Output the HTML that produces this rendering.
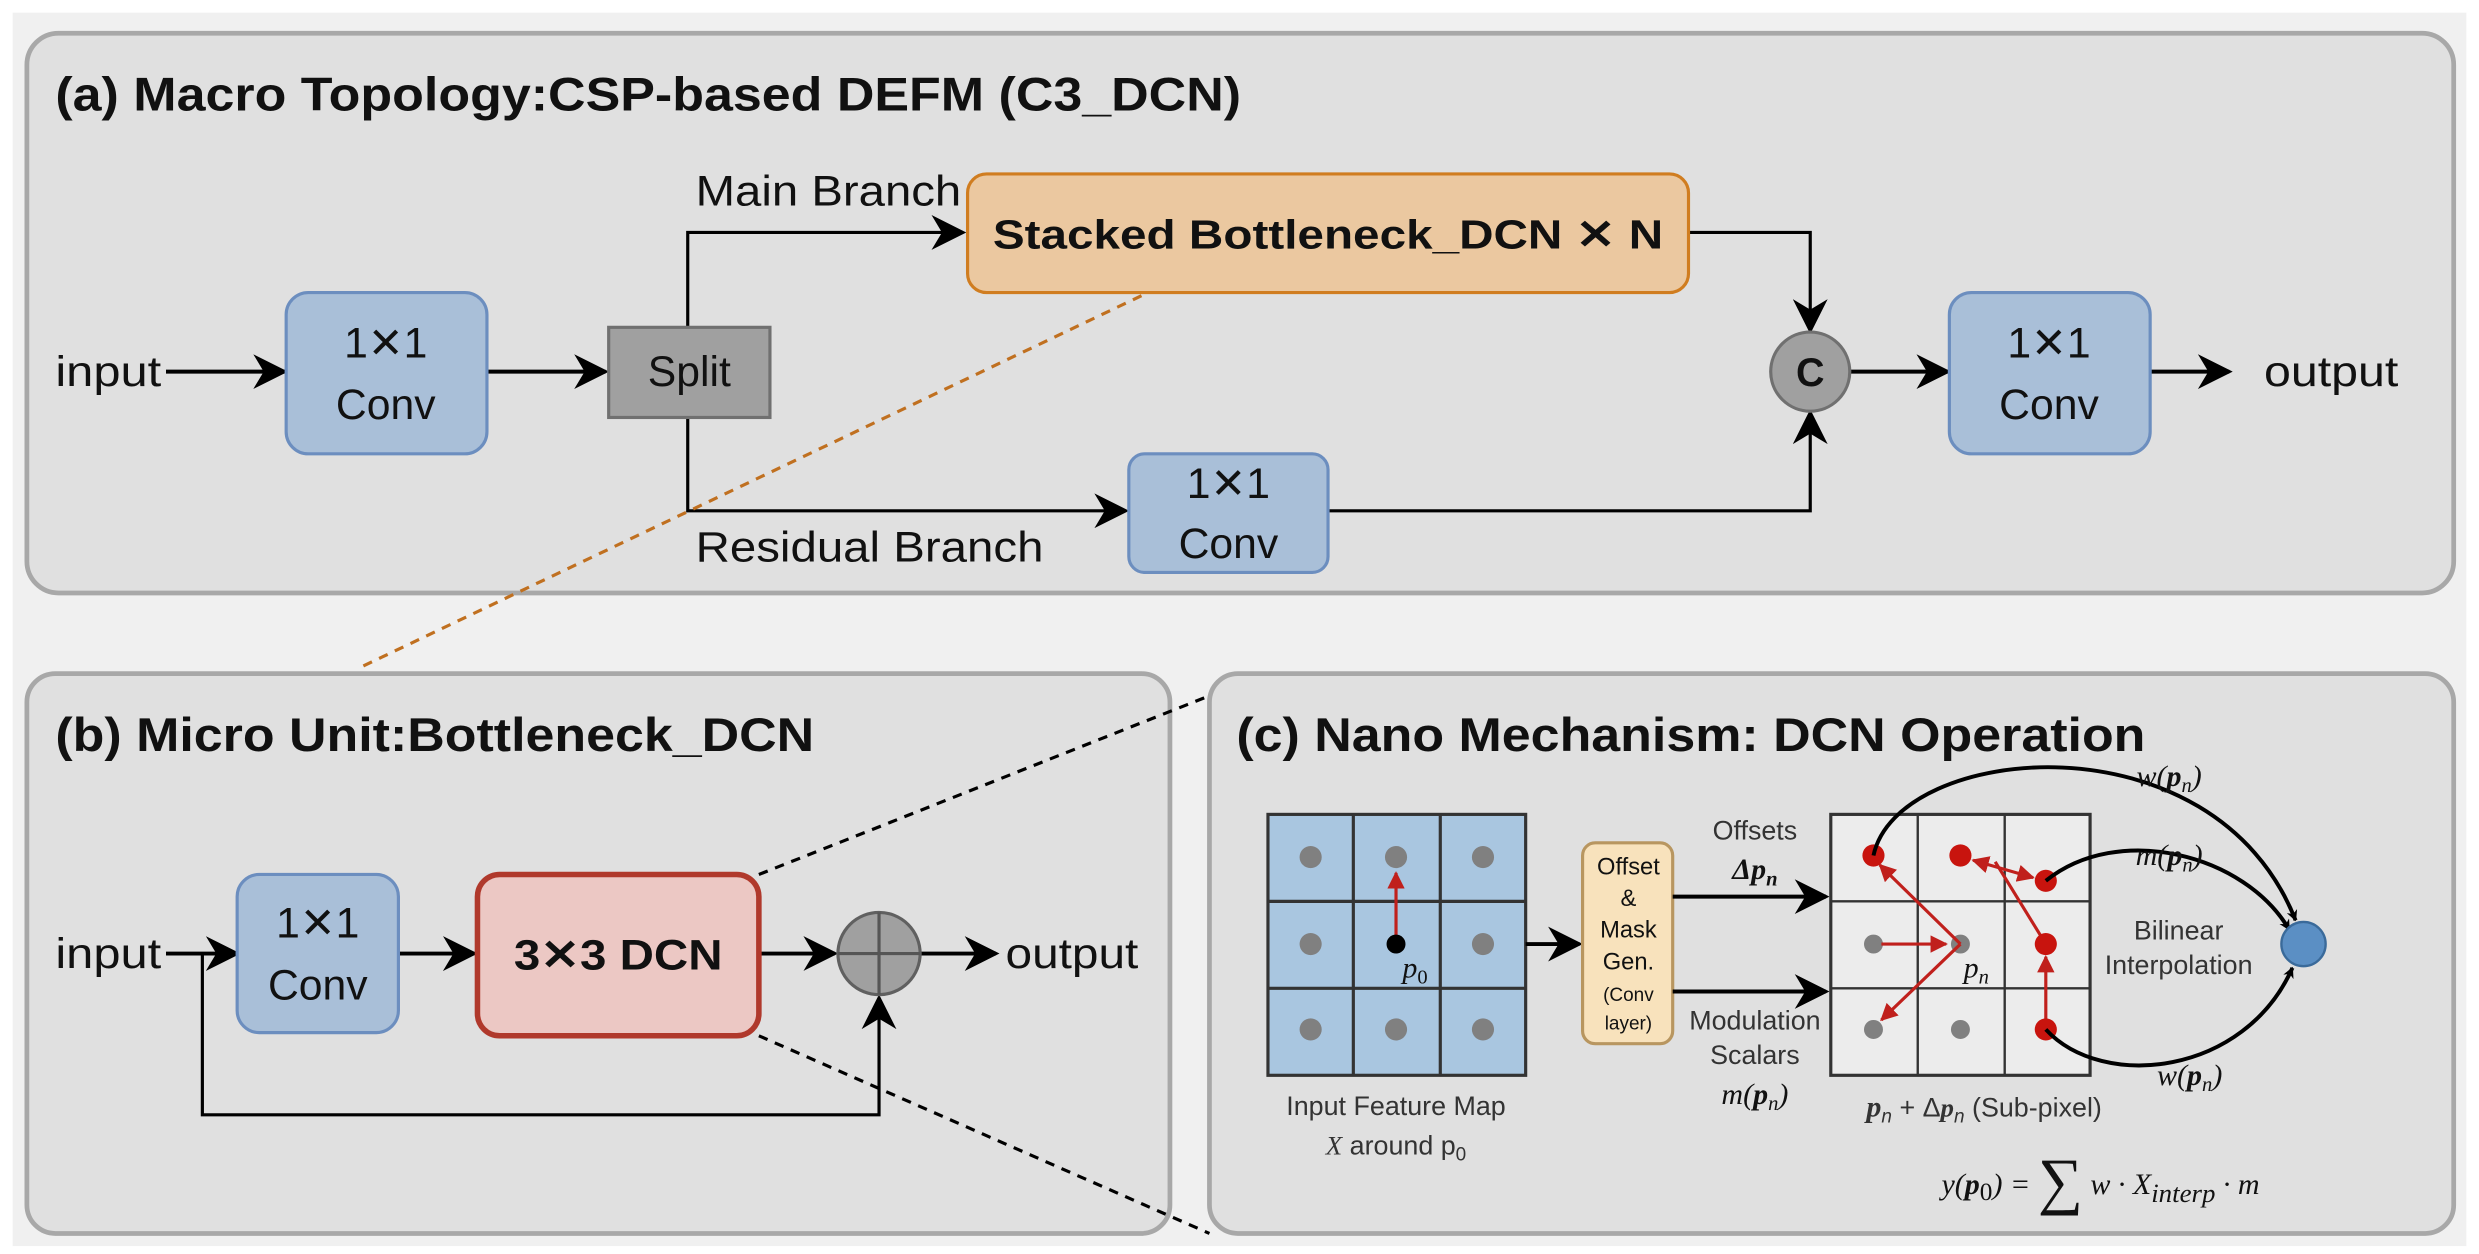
<!DOCTYPE html>
<html><head><meta charset="utf-8"><style>
html,body{margin:0;padding:0;background:#fff;}
svg{display:block;}
text{font-family:"Liberation Sans",sans-serif;fill:#111;}
.t{font-weight:bold;font-size:30px;}
.l{font-size:27px;}
.s{font-size:17px;fill:#333;}
.m{font-family:"Liberation Serif",serif;font-style:italic;font-size:19px;}
</style></head><body>
<svg width="2479" height="1254" viewBox="0 0 1568 793" preserveAspectRatio="none" xmlns="http://www.w3.org/2000/svg">
<defs>
<marker id="a" viewBox="0 0 10 10" refX="9" refY="5" markerWidth="7" markerHeight="7" markerUnits="userSpaceOnUse" orient="auto"><path d="M0,0 L10,5 L0,10 L3,5 z" fill="#000"/></marker>
<marker id="A" viewBox="0 0 10 10" refX="9" refY="5" markerWidth="22" markerHeight="22" markerUnits="userSpaceOnUse" orient="auto"><path d="M0,0 L10,5 L0,10 L3,5 z" fill="#000"/></marker>
<marker id="r" viewBox="0 0 10 10" refX="9" refY="5" markerWidth="11" markerHeight="11" markerUnits="userSpaceOnUse" orient="auto"><path d="M0,0 L10,5 L0,10 z" fill="#c0201c"/></marker>
<marker id="rs" viewBox="0 0 10 10" refX="1" refY="5" markerWidth="11" markerHeight="11" markerUnits="userSpaceOnUse" orient="auto"><path d="M10,0 L0,5 L10,10 z" fill="#c0201c"/></marker>
</defs>
<rect x="0" y="0" width="1568" height="793" fill="#fff"/>
<rect x="8" y="8" width="1552" height="780" fill="#f0f0f0"/>
<!-- panel a -->
<rect x="17" y="21" width="1535" height="354" rx="20" fill="#e0e0e0" stroke="#a8a8a8" stroke-width="3"/>
<text x="35" y="70" class="t" textLength="750" lengthAdjust="spacingAndGlyphs">(a) Macro Topology:CSP-based DEFM (C3_DCN)</text>
<text x="35" y="244" class="l" textLength="67" lengthAdjust="spacingAndGlyphs">input</text>
<g stroke="#000" stroke-width="2.5" fill="none">
<line x1="105" y1="235" x2="180" y2="235" marker-end="url(#A)"/>
<line x1="308" y1="235" x2="383" y2="235" marker-end="url(#A)"/>
<polyline points="435,207 435,147 609,147" marker-end="url(#A)" stroke-width="2"/>
<polyline points="1068,147 1145,147 1145,209" marker-end="url(#A)" stroke-width="2"/>
<line x1="1170" y1="235" x2="1232" y2="235" marker-end="url(#A)"/>
<line x1="1360" y1="235" x2="1410" y2="235" marker-end="url(#A)"/>
<polyline points="435,264 435,323 712,323" marker-end="url(#A)" stroke-width="2"/>
<polyline points="840,323 1145,323 1145,261" marker-end="url(#A)" stroke-width="2"/>
</g>
<rect x="181" y="185" width="127" height="102" rx="14" fill="#a9bfd8" stroke="#6c8ebf" stroke-width="2"/>
<text x="244" y="226" class="l" text-anchor="middle">1✕1</text><text x="244" y="265" class="l" text-anchor="middle">Conv</text>
<rect x="385" y="207" width="102" height="57" fill="#a0a0a0" stroke="#707070" stroke-width="2"/>
<text x="436" y="244" class="l" text-anchor="middle">Split</text>
<text x="440" y="130" class="l" textLength="168" lengthAdjust="spacingAndGlyphs">Main Branch</text>
<rect x="612" y="110" width="456" height="75" rx="12" fill="#ebc8a0" stroke="#d07d20" stroke-width="2"/>
<text x="628" y="157" font-size="26" font-weight="bold" textLength="424" lengthAdjust="spacingAndGlyphs">Stacked Bottleneck_DCN ✕ N</text>
<circle cx="1145" cy="235" r="25" fill="#a0a0a0" stroke="#707070" stroke-width="2"/>
<text x="1145" y="244" font-size="25" font-weight="bold" text-anchor="middle">C</text>
<rect x="1233" y="185" width="127" height="102" rx="14" fill="#a9bfd8" stroke="#6c8ebf" stroke-width="2"/>
<text x="1296" y="226" class="l" text-anchor="middle">1✕1</text><text x="1296" y="265" class="l" text-anchor="middle">Conv</text>
<text x="1432" y="244" class="l" textLength="85" lengthAdjust="spacingAndGlyphs">output</text>
<text x="440" y="355" class="l" textLength="220" lengthAdjust="spacingAndGlyphs">Residual Branch</text>
<rect x="714" y="287" width="126" height="75" rx="10" fill="#a9bfd8" stroke="#6c8ebf" stroke-width="2"/>
<text x="777" y="315" class="l" text-anchor="middle">1✕1</text><text x="777" y="353" class="l" text-anchor="middle">Conv</text>
<!-- panel b -->
<rect x="17" y="426" width="723" height="354" rx="18" fill="#e0e0e0" stroke="#a8a8a8" stroke-width="3"/>
<text x="35" y="475" class="t" textLength="480" lengthAdjust="spacingAndGlyphs">(b) Micro Unit:Bottleneck_DCN</text>
<text x="35" y="612" class="l" textLength="67" lengthAdjust="spacingAndGlyphs">input</text>
<g stroke="#000" stroke-width="2.5" fill="none">
<line x1="105" y1="603" x2="150" y2="603" marker-end="url(#A)"/>
<line x1="252" y1="603" x2="300" y2="603" marker-end="url(#A)"/>
<line x1="480" y1="603" x2="528" y2="603" marker-end="url(#A)"/>
<line x1="582" y1="603" x2="630" y2="603" marker-end="url(#A)"/>
<polyline points="128,603 128,705 556,705 556,631" marker-end="url(#A)" stroke-width="2"/>
</g>
<rect x="150" y="553" width="102" height="100" rx="14" fill="#a9bfd8" stroke="#6c8ebf" stroke-width="2"/>
<text x="201" y="593" class="l" text-anchor="middle">1✕1</text><text x="201" y="632" class="l" text-anchor="middle">Conv</text>
<rect x="302" y="553" width="178" height="102" rx="14" fill="#ecc8c4" stroke="#b0392c" stroke-width="3.5"/>
<text x="325" y="613" font-size="27" font-weight="bold" textLength="132" lengthAdjust="spacingAndGlyphs">3✕3 DCN</text>
<circle cx="556" cy="603" r="26" fill="#a0a0a0" stroke="#606060" stroke-width="2"/>
<line x1="530" y1="603" x2="582" y2="603" stroke="#555" stroke-width="2"/><line x1="556" y1="577" x2="556" y2="629" stroke="#555" stroke-width="2"/>
<text x="636" y="612" class="l" textLength="84" lengthAdjust="spacingAndGlyphs">output</text>
<!-- panel c -->
<rect x="765" y="426" width="787" height="354" rx="18" fill="#e0e0e0" stroke="#a8a8a8" stroke-width="3"/>
<text x="782" y="475" class="t" textLength="575" lengthAdjust="spacingAndGlyphs">(c) Nano Mechanism: DCN Operation</text>
<!-- dashed connectors -->
<line x1="722" y1="187" x2="228" y2="422" stroke="#c07020" stroke-width="2" stroke-dasharray="6,5"/>
<line x1="480" y1="553" x2="765" y2="440" stroke="#000" stroke-width="2" stroke-dasharray="6,5"/>
<line x1="480" y1="655" x2="765" y2="780" stroke="#000" stroke-width="2" stroke-dasharray="6,5"/>
<!-- grid 1 -->
<rect x="802" y="515" width="163" height="165" fill="#a9c6e0" stroke="#333" stroke-width="2"/>
<g stroke="#333" stroke-width="2"><line x1="856" y1="515" x2="856" y2="680"/><line x1="911" y1="515" x2="911" y2="680"/><line x1="802" y1="570" x2="965" y2="570"/><line x1="802" y1="625" x2="965" y2="625"/></g>
<g fill="#808080"><circle cx="829" cy="542" r="7"/><circle cx="883" cy="542" r="7"/><circle cx="938" cy="542" r="7"/><circle cx="829" cy="597" r="7"/><circle cx="938" cy="597" r="7"/><circle cx="829" cy="651" r="7"/><circle cx="883" cy="651" r="7"/><circle cx="938" cy="651" r="7"/></g>
<line x1="883" y1="597" x2="883" y2="552" stroke="#c0201c" stroke-width="2" marker-end="url(#r)"/>
<circle cx="883" cy="597" r="6" fill="#000"/>
<text x="887" y="618" class="m" font-size="20">p<tspan font-size="13" dy="4" font-style="normal">0</tspan></text>
<text x="883" y="705" class="s" text-anchor="middle">Input Feature Map</text>
<text x="883" y="730" class="s" text-anchor="middle"><tspan font-style="italic" font-family="Liberation Serif">X</tspan> around p<tspan font-size="12" dy="4">0</tspan></text>
<line x1="965" y1="597" x2="999" y2="597" stroke="#000" stroke-width="2.5" marker-end="url(#A)"/>
<rect x="1001" y="533" width="57" height="127" rx="8" fill="#f8e2bc" stroke="#b89660" stroke-width="2"/>
<g font-size="15" text-anchor="middle"><text x="1030" y="553" font-size="15">Offset</text><text x="1030" y="573" font-size="15">&amp;</text><text x="1030" y="593" font-size="15">Mask</text><text x="1030" y="613" font-size="15">Gen.</text><text x="1030" y="633" font-size="12">(Conv</text><text x="1030" y="651" font-size="12">layer)</text></g>
<line x1="1058" y1="567" x2="1155" y2="567" stroke="#000" stroke-width="2.5" marker-end="url(#A)"/>
<line x1="1058" y1="627" x2="1155" y2="627" stroke="#000" stroke-width="2.5" marker-end="url(#A)"/>
<text x="1110" y="531" class="s" text-anchor="middle">Offsets</text>
<text x="1110" y="556" class="m" text-anchor="middle" font-weight="bold">Δp<tspan font-size="13" dy="4">n</tspan></text>
<text x="1110" y="651" class="s" text-anchor="middle">Modulation</text>
<text x="1110" y="673" class="s" text-anchor="middle">Scalars</text>
<text x="1110" y="698" class="m" text-anchor="middle">m(<tspan font-weight="bold">p</tspan><tspan font-size="13" dy="4">n</tspan><tspan dy="-4">)</tspan></text>
<!-- grid 2 -->
<rect x="1158" y="515" width="164" height="165" fill="#ececec" stroke="#333" stroke-width="2"/>
<g stroke="#333" stroke-width="1.5"><line x1="1213" y1="515" x2="1213" y2="680"/><line x1="1268" y1="515" x2="1268" y2="680"/><line x1="1158" y1="570" x2="1322" y2="570"/><line x1="1158" y1="625" x2="1322" y2="625"/></g>
<g fill="#808080"><circle cx="1185" cy="597" r="6"/><circle cx="1240" cy="597" r="6"/><circle cx="1185" cy="651" r="6"/><circle cx="1240" cy="651" r="6"/></g>
<g stroke="#c0201c" stroke-width="2" fill="none">
<line x1="1240" y1="597" x2="1189" y2="547" marker-end="url(#r)"/>
<line x1="1240" y1="597" x2="1190" y2="645" marker-end="url(#r)"/>
<line x1="1190" y1="597" x2="1231" y2="597" marker-end="url(#r)"/>
<line x1="1294" y1="651" x2="1294" y2="605" marker-end="url(#r)"/>
<line x1="1294" y1="597" x2="1262" y2="545"/>
<line x1="1248" y1="544" x2="1286" y2="555" marker-start="url(#rs)" marker-end="url(#r)"/>
</g>
<g fill="#c8140e"><circle cx="1185" cy="541" r="7"/><circle cx="1240" cy="541" r="7"/><circle cx="1294" cy="557" r="7"/><circle cx="1294" cy="597" r="7"/><circle cx="1294" cy="651" r="7"/></g>
<text x="1242" y="618" class="m" font-size="20">p<tspan font-size="13" dy="4">n</tspan></text>
<text x="1255" y="706" class="s" text-anchor="middle"><tspan class="m" font-weight="bold">p</tspan><tspan font-size="12" dy="4" font-style="italic">n</tspan><tspan dy="-4"> + Δ</tspan><tspan font-weight="bold" font-style="italic" font-family="Liberation Serif">p</tspan><tspan font-size="12" dy="4" font-style="italic">n</tspan><tspan dy="-4"> (Sub-pixel)</tspan></text>
<g stroke="#000" stroke-width="2.5" fill="none">
<path d="M1185,541 C1200,470 1400,450 1452,582" marker-end="url(#a)"/>
<path d="M1294,557 C1340,520 1420,540 1448,588" marker-end="url(#a)"/>
<path d="M1294,651 C1330,690 1420,680 1450,612" marker-end="url(#a)"/>
</g>
<circle cx="1457" cy="597" r="14" fill="#5b8fc4" stroke="#3a6a9a" stroke-width="1.5"/>
<text x="1372" y="497" class="m" text-anchor="middle">w(<tspan font-weight="bold">p</tspan><tspan font-size="13" dy="4">n</tspan><tspan dy="-4">)</tspan></text>
<text x="1372" y="547" class="m" text-anchor="middle">m(<tspan font-weight="bold">p</tspan><tspan font-size="13" dy="4">n</tspan><tspan dy="-4">)</tspan></text>
<text x="1378" y="594" class="s" text-anchor="middle">Bilinear</text>
<text x="1378" y="616" class="s" text-anchor="middle">Interpolation</text>
<text x="1385" y="686" class="m" text-anchor="middle">w(<tspan font-weight="bold">p</tspan><tspan font-size="13" dy="4">n</tspan><tspan dy="-4">)</tspan></text>
<text x="1228" y="755" class="m" font-size="25">y(<tspan font-weight="bold">p</tspan><tspan font-size="16" dy="4" font-style="normal">0</tspan><tspan dy="-4">) = </tspan><tspan font-size="40" font-style="normal" dy="5">∑</tspan><tspan dy="-5"> w · X</tspan><tspan font-size="17" dy="5">interp</tspan><tspan dy="-5"> · m</tspan></text>
</svg>
</body></html>
